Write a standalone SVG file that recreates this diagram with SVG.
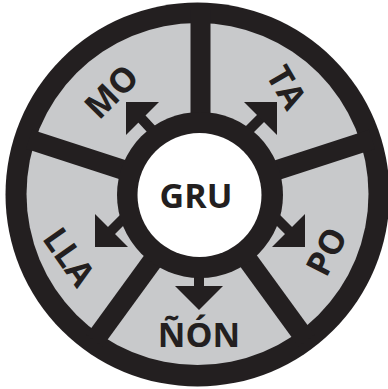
<svg xmlns="http://www.w3.org/2000/svg" width="388" height="389" viewBox="0 0 388 389">
<defs>
<style>
.dark{fill:#231f20}
.gray{fill:#c8c9cb}
.div{stroke:#231f20;stroke-width:20;stroke-linecap:butt}
.shaft{stroke:#231f20;stroke-width:10}
.head{fill:#231f20}
.lbl{font-family:"Open Sans","Noto Sans","DejaVu Sans",sans-serif;font-weight:700;font-size:34px;fill:#231f20;text-anchor:middle}
</style>
</defs>
<rect width="388" height="389" fill="#ffffff"/>
<g id="wheel">
<circle class="dark" cx="197.5" cy="194.5" r="192"/>
<circle class="gray" cx="197.5" cy="194" r="171"/>
<g id="dividers">
<line class="div" x1="200.5" y1="195" x2="200.5" y2="10"/>
<line class="div" x1="200.5" y1="195" x2="372" y2="139.3"/>
<line class="div" x1="200.5" y1="195" x2="306.5" y2="340.6"/>
<line class="div" x1="200.5" y1="195" x2="94.5" y2="340.6"/>
<line class="div" x1="200.5" y1="195" x2="29" y2="139.3"/>
</g>
</g>
<g id="connectors">
<line class="shaft" x1="232" y1="147" x2="262" y2="117"/>
<polygon class="head" points="277,102 244,102 277,135"/>
<line class="shaft" x1="168" y1="147" x2="140" y2="117"/>
<polygon class="head" points="126,102 159,102 126,135"/>
<line class="shaft" x1="262" y1="204" x2="291" y2="233"/>
<polygon class="head" points="305,247 305,214 272,247"/>
<line class="shaft" x1="138" y1="204" x2="109" y2="233"/>
<polygon class="head" points="95,247 95,214 128,247"/>
<line class="shaft" x1="199" y1="265" x2="199" y2="289"/>
<polygon class="head" points="199,310 175,286 223,286"/>
</g>
<g id="hub">
<circle class="dark" cx="200" cy="195" r="83"/>
<circle cx="199.5" cy="195" r="62" fill="#ffffff"/>
<text class="lbl" x="196" y="208">GRU</text>
</g>
<g id="node-mo"><text class="lbl" transform="translate(111.5,91.5) rotate(-45)" y="12">MO</text></g>
<g id="node-ta"><text class="lbl" transform="translate(286.5,87.5) rotate(60)" y="12">TA</text></g>
<g id="node-po"><text class="lbl" transform="translate(326.5,251.5) rotate(-63)" y="12">PO</text></g>
<g id="node-lla"><text class="lbl" transform="translate(69,257) rotate(55)" y="12">LLA</text></g>
<g id="node-non"><text class="lbl" x="199" y="347">ÑÓN</text></g>
</svg>
